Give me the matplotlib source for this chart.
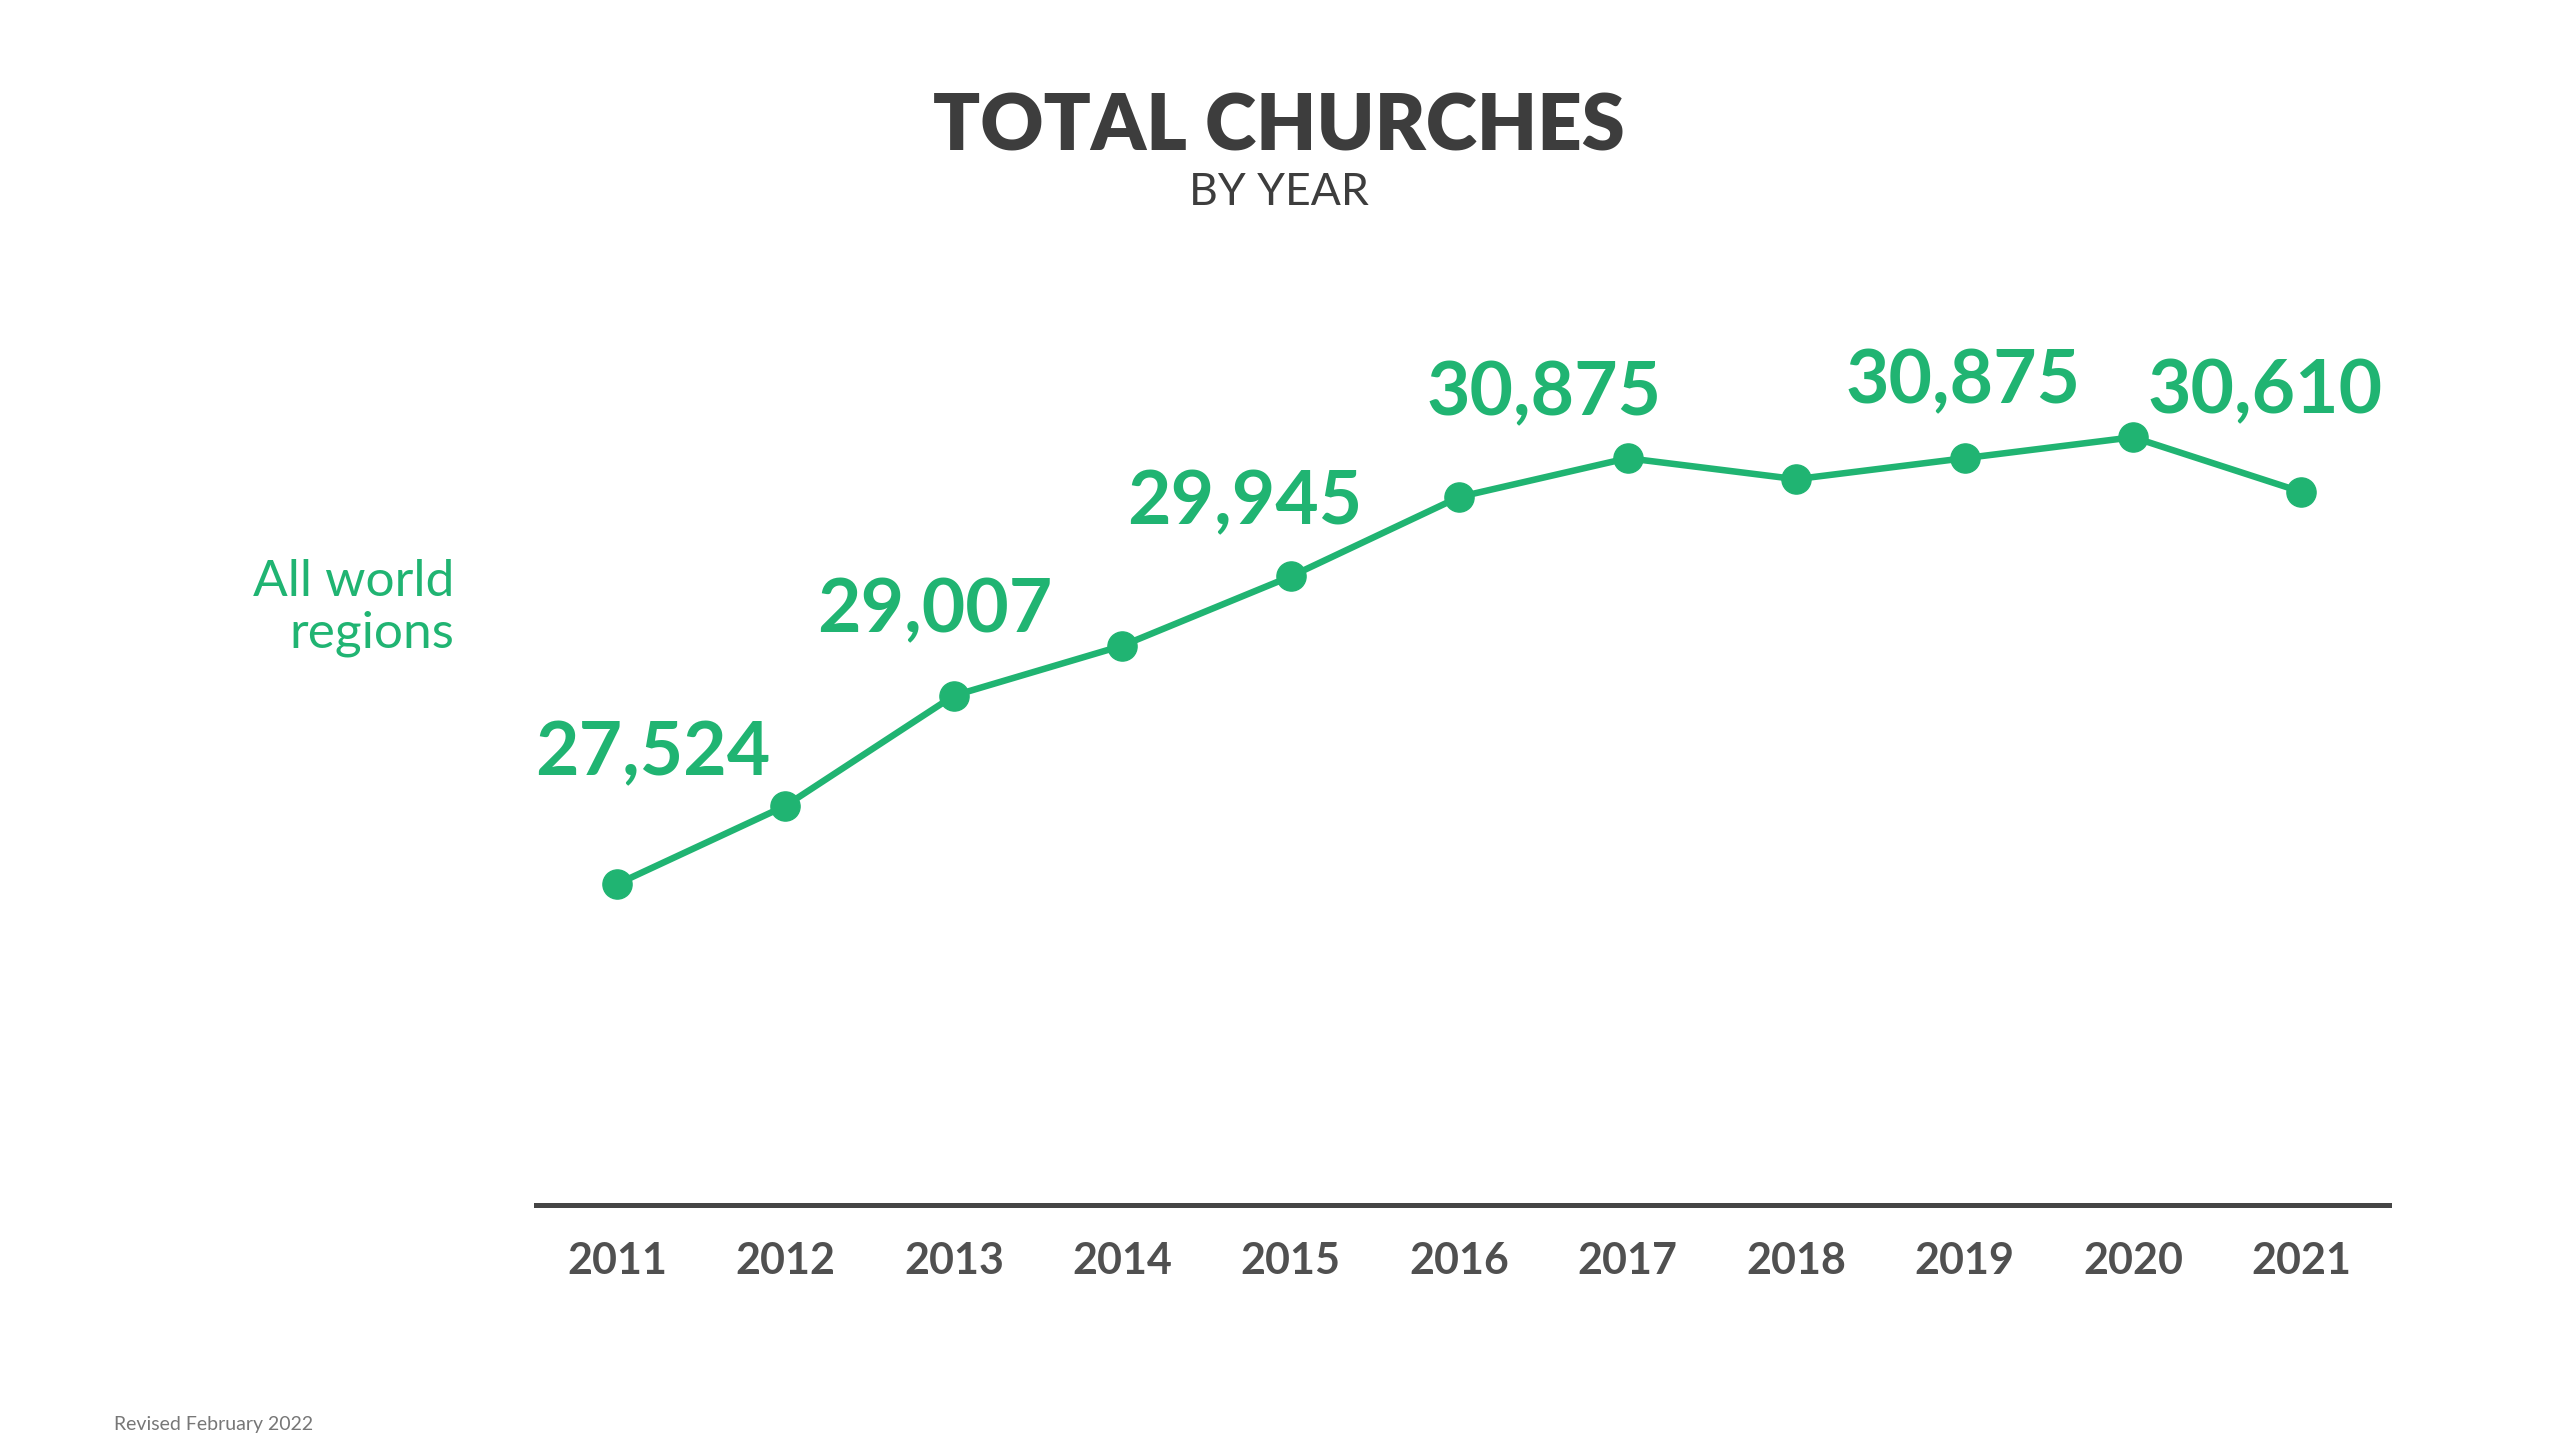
import matplotlib
matplotlib.use("Agg")
import matplotlib.pyplot as plt

# data
years = [2011, 2012, 2013, 2014, 2015, 2016, 2017, 2018, 2019, 2020, 2021]
churches = [27524, 28140, 29007, 29400, 29945, 30570, 30875, 30710, 30875, 31040, 30610]
label_years = [2011, 2013, 2015, 2017, 2019, 2021]
label_texts = ["27,524", "29,007", "29,945", "30,875", "30,875", "30,610"]

# where each value label sits relative to its point (pixels)
label_offsets = [(36, 130), (-19, 85), (-46, 74), (-84, 64), (-2, 76), (-36, 100)]

green = "#20b472"
dark = "#3d3d3d"

plt.rcParams["font.family"] = ["Lato", "DejaVu Sans"]

fig = plt.figure(figsize=(25.6, 14.4), dpi=100)
fig.patch.set_facecolor("white")
ax = fig.add_axes([0.2094, 0.1632, 0.7238, 0.6285])

ax.plot(years, churches, color=green, lw=4.7, marker="o", markersize=21,
        solid_capstyle="round", zorder=3)

for yr, txt, off in zip(label_years, label_texts, label_offsets):
    val = churches[years.index(yr)]
    ax.annotate(txt, (yr, val), xytext=off, textcoords="offset pixels",
                ha="center", va="center", fontsize=54, fontweight="bold", color=green)

ax.set_xlim(2010.52, 2021.52)
ax.set_ylim(25000, 32120)
ax.set_xticks(years)
ax.set_xticklabels([str(y) for y in years], fontsize=31, fontweight="bold", color="#505050")
ax.tick_params(axis="x", length=0, pad=26)
ax.set_yticks([])
for s in ["top", "right", "left"]:
    ax.spines[s].set_visible(False)
ax.spines["bottom"].set_color("#454545")
ax.spines["bottom"].set_linewidth(3.6)
ax.set_facecolor("none")

# titles and side label
fig.text(0.4995, 0.911, "TOTAL CHURCHES", ha="center", va="center",
         fontsize=56, fontweight="heavy", color=dark)
fig.text(0.4995, 0.866, "BY YEAR", ha="center", va="center",
         fontsize=32, color=dark)
fig.text(0.1775, 0.578, "All world\nregions", ha="right", va="center",
         fontsize=37, color=green, linespacing=1.15)
fig.text(0.0445, 0.011, "Revised February 2022", ha="left", va="center",
         fontsize=14, color="#777777")

fig.savefig("out.png", dpi=100, facecolor="white")
